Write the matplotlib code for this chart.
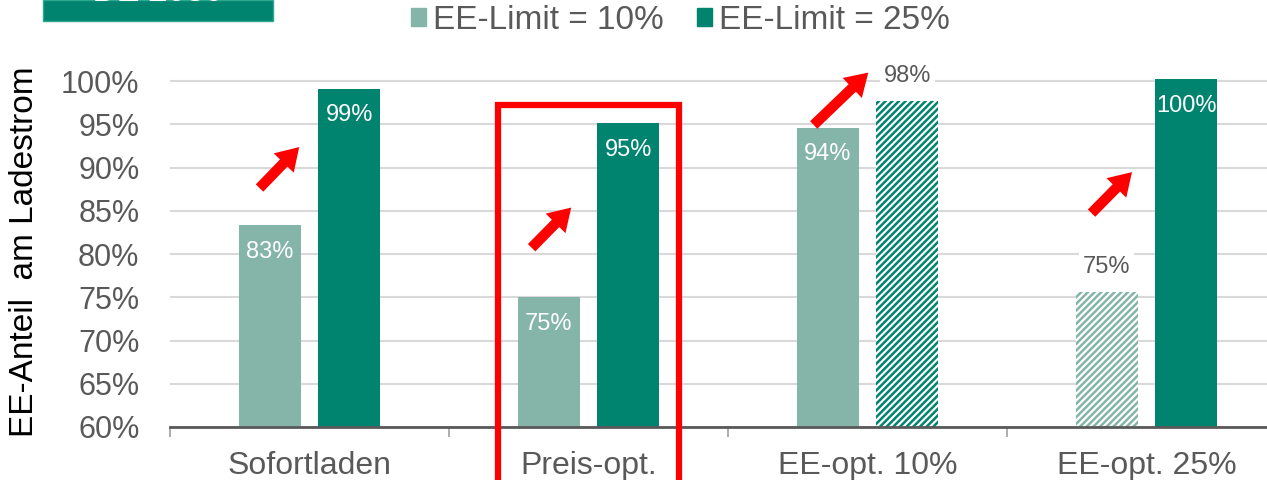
import matplotlib
matplotlib.use("Agg")
import matplotlib.pyplot as plt
from matplotlib.patches import FancyArrowPatch, Rectangle, Patch

plt.rcParams['font.family'] = ['Liberation Sans', 'DejaVu Sans']
plt.rcParams['hatch.linewidth'] = 1.8

# data
kategorien = ['Sofortladen', 'Preis-opt.', 'EE-opt. 10%', 'EE-opt. 25%']
limit_10 = [83.3, 75.0, 94.6, 75.6]
limit_25 = [99.1, 95.1, 97.7, 100.2]
labels_10 = ['83%', '75%', '94%', '75%']
labels_25 = ['99%', '95%', '98%', '100%']
# which bars are hatched (scenario optimised for the other limit)
hatch_10 = [False, False, False, True]
hatch_25 = [False, False, True, False]
yticks = [60, 65, 70, 75, 80, 85, 90, 95, 100]

hell = '#84B5A8'
dunkel = '#00836F'
grau = '#595959'

fig = plt.figure(figsize=(12.67, 4.8), dpi=100)
ax = fig.add_axes([170 / 1267, 53 / 480, 1116 / 1267, 354.6 / 480])

breite = 0.222
off = 0.143
for i in range(len(kategorien)):
    for x, v, lab, h, col in [(i - off, limit_10[i], labels_10[i], hatch_10[i], hell),
                              (i + off, limit_25[i], labels_25[i], hatch_25[i], dunkel)]:
        if h:
            ax.bar(x, v - 60, bottom=60, width=breite, color='white', edgecolor=col,
                   linewidth=0, hatch='/////', zorder=2)
            ax.annotate(lab, (x, v), xytext=(0, 18), textcoords='offset points',
                        ha='center', va='center', fontsize=17, color=grau, zorder=4,
                        bbox=dict(boxstyle='square,pad=0.15', fc='white', ec='none'))
        else:
            ax.bar(x, v - 60, bottom=60, width=breite, color=col, linewidth=0, zorder=2)
            ax.annotate(lab, (x, v), xytext=(0, -19), textcoords='offset points',
                        ha='center', va='center', fontsize=17, color='white', zorder=4)

ax.set_xlim(-0.5, 3.5)
ax.set_ylim(60, 101)
ax.set_yticks(yticks)
ax.set_yticklabels([f'{t}%' for t in yticks])
ax.yaxis.grid(True, color='#D9D9D9', linewidth=1.5, zorder=0)
ax.set_axisbelow(True)
ax.tick_params(axis='y', length=0, pad=22, labelsize=22, labelcolor=grau)
ax.set_xticks(range(len(kategorien)))
ax.set_xticklabels(kategorien)
ax.set_xticks([-0.5, 0.5, 1.5, 2.5], minor=True)
ax.tick_params(axis='x', which='major', length=0, pad=17, labelsize=23, labelcolor=grau)
ax.tick_params(axis='x', which='minor', length=7, width=1.2, color='#A0A0A0', direction='out')
for s in ['left', 'right', 'top']:
    ax.spines[s].set_visible(False)
ax.spines['bottom'].set_color(grau)
ax.spines['bottom'].set_linewidth(2)

# red arrows
pfeile = [((-0.186, 87.4), (-0.03, 92.6)),
          ((0.789, 80.5), (0.945, 85.6)),
          ((1.80, 94.7), (2.01, 101.2)),
          ((2.796, 84.5), (2.955, 89.7))]
for a, b in pfeile:
    ax.add_patch(FancyArrowPatch(a, b, arrowstyle='simple,head_width=2.0,head_length=1.6,tail_width=0.75',
                                 mutation_scale=10, color='#FF0000', lw=0, clip_on=False, zorder=5))

# red frame around Preis-opt.
ax.add_patch(Rectangle((0.674, 52.0), 0.652, 97.2 - 52.0, fill=False, edgecolor='#FF0000',
                       linewidth=4.5, clip_on=False, zorder=5))

# legend
fig.legend(handles=[Patch(color=hell), Patch(color=dunkel)],
           labels=['EE-Limit = 10%', 'EE-Limit = 25%'], loc='center',
           bbox_to_anchor=(0.537, 0.957), ncol=2, frameon=False, fontsize=24,
           handlelength=0.45, handleheight=0.45, handletextpad=0.2, columnspacing=1.0,
           labelcolor=grau)

# y label
fig.text(25 / 1267, 0.475, 'EE-Anteil  am Ladestrom', rotation=90, ha='center', va='center',
         fontsize=24, color='black')

# green title box (cut off at top)
fig.patches.append(Rectangle((43 / 1267, 1 - 21 / 480), 230 / 1267, 21 / 480,
                             transform=fig.transFigure, facecolor=dunkel, edgecolor='#2BA88E',
                             linewidth=1, zorder=1))
fig.text(158 / 1267, 1 - 1 / 480, 'DE 2030', ha='center', va='baseline', fontsize=24,
         fontweight='bold', color='white', zorder=2)

fig.savefig('out.png', dpi=100)
